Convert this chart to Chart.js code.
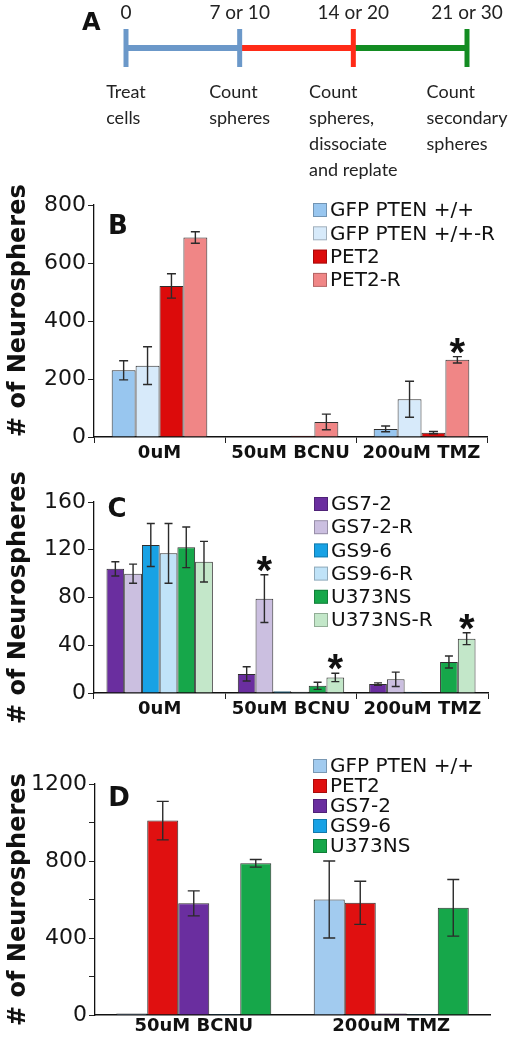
<!DOCTYPE html>
<html>
<head>
<meta charset="utf-8">
<script src="https://cdn.jsdelivr.net/npm/chart.js@4.4.1/dist/chart.umd.min.js"></script>
<style>
  html, body { margin: 0; padding: 0; background: #fff; }
  #wrap { position: relative; width: 531px; height: 1050px; overflow: hidden; }
  .panel { position: absolute; left: 0; width: 531px; }
</style>
</head>
<body>
<div id="wrap">
  <div class="panel" style="top:0;height:180px"><canvas id="chartA"></canvas></div>
  <div class="panel" style="top:180px;height:290px"><canvas id="chartB"></canvas></div>
  <div class="panel" style="top:470px;height:270px"><canvas id="chartC"></canvas></div>
  <div class="panel" style="top:740px;height:310px"><canvas id="chartD"></canvas></div>
</div>
<script>
// ---- Panel A: timeline ----
const timePos = [0, 1, 2, 3];
const timeTicks = ['0', '7 or 10', '14 or 20', '21 or 30'];
const timeSteps = [
    ['Treat', 'cells'],
    ['Count', 'spheres'],
    ['Count', 'spheres,', 'dissociate', 'and replate'],
    ['Count', 'secondary', 'spheres'],
];

// ---- Panels B / C / D: categories ----
const groupsBC = ['0uM', '50uM BCNU', '200uM TMZ'];
const groupsD = ['50uM BCNU', '200uM TMZ'];

// Panel B
const seriesB = ['GFP PTEN +/+', 'GFP PTEN +/+-R', 'PET2', 'PET2-R'];
const bGfp = [230, 2, 28];
const bGfpR = [246, 2, 130];
const bPet2 = [521, 4, 15];
const bPet2R = [688, 52, 266];
const bGfpErr = [33, 0, 10];
const bGfpRErr = [65, 0, 62];
const bPet2Err = [42, 0, 4];
const bPet2RErr = [20, 27, 11];
const bStars = [[3, 2]]; // [series, group]
const bTicks = [0, 200, 400, 600, 800];

// Panel C
const seriesC = ['GS7-2', 'GS7-2-R', 'GS9-6', 'GS9-6-R', 'U373NS', 'U373NS-R'];
const cGs72 = [104, 16, 7.5];
const cGs72R = [100, 79, 11.5];
const cGs96 = [124, 1.5, 1];
const cGs96R = [117, 1, 0.5];
const cU373 = [122, 6, 26];
const cU373R = [110, 13, 45.5];
const cGs72Err = [6, 6, 1];
const cGs72RErr = [8, 20, 6];
const cGs96Err = [18, 0, 0];
const cGs96RErr = [25, 0, 0];
const cU373Err = [17, 3, 5];
const cU373RErr = [17, 3.5, 5];
const cStars = [[1, 1], [5, 1], [5, 2]];
const cTicks = [0, 40, 80, 120, 160];

// Panel D
const seriesD = ['GFP PTEN +/+', 'PET2', 'GS7-2', 'GS9-6', 'U373NS'];
const dGfp = [8, 600];
const dPet2 = [1010, 583];
const dGs72 = [580, 8];
const dGs96 = [5, 5];
const dU373 = [788, 557];
const dGfpErr = [0, 200];
const dPet2Err = [100, 112];
const dGs72Err = [65, 0];
const dGs96Err = [0, 0];
const dU373Err = [20, 147];
const dStars = [];
const dTicks = [0, 400, 800, 1200];

Chart.defaults.font.family = '"DejaVu Sans", sans-serif';
Chart.defaults.color = '#151515';

// error bars + significance stars, placed from the bar elements and the y scale
const errorBars = {
    id: 'errorBars',
    afterDatasetsDraw(chart, args, o) {
        const { ctx, scales: { y } } = chart;
        ctx.save();
        ctx.strokeStyle = '#2b2b2b';
        ctx.lineWidth = 1.4;
        chart.data.datasets.forEach((ds, i) => {
            chart.getDatasetMeta(i).data.forEach((bar, j) => {
                const err = ds.errors[j];
                if (!err) return;
                const v = ds.data[j];
                const top = y.getPixelForValue(v + err);
                const bot = y.getPixelForValue(Math.max(v - err, 0));
                ctx.beginPath();
                ctx.moveTo(bar.x, top); ctx.lineTo(bar.x, bot);
                ctx.moveTo(bar.x - o.cap, top); ctx.lineTo(bar.x + o.cap, top);
                ctx.moveTo(bar.x - o.cap, bot); ctx.lineTo(bar.x + o.cap, bot);
                ctx.stroke();
            });
        });
        // asterisks above the marked bars
        ctx.fillStyle = '#111';
        ctx.font = 'bold 40px "Liberation Sans"';
        ctx.textAlign = 'center';
        ctx.textBaseline = 'alphabetic';
        const m = ctx.measureText('*');
        const half = (m.actualBoundingBoxAscent - m.actualBoundingBoxDescent) / 2;
        o.stars.forEach(([s, g]) => {
            const ds = chart.data.datasets[s];
            const bar = chart.getDatasetMeta(s).data[g];
            const cy = y.getPixelForValue(ds.data[g] + (ds.errors[g] || 0)) - 11;
            ctx.fillText('*', bar.x, cy + half);
        });
        ctx.restore();
    },
};

// legend inside the plot, plus the panel letter
const panelLegend = {
    id: 'panelLegend',
    afterDraw(chart, args, o) {
        const { ctx } = chart;
        ctx.save();
        ctx.font = '20px "DejaVu Sans"';
        ctx.textBaseline = 'middle';
        ctx.textAlign = 'left';
        chart.data.datasets.forEach((ds, i) => {
            const cy = o.top + i * o.gap;
            ctx.fillStyle = ds.backgroundColor;
            ctx.fillRect(o.left, cy - 7, 14, 14);
            ctx.strokeStyle = 'rgba(0,0,0,0.25)';
            ctx.lineWidth = 1;
            ctx.strokeRect(o.left + 0.5, cy - 6.5, 13, 13);
            ctx.fillStyle = '#111';
            ctx.fillText(ds.label, o.left + 17, cy + 1);
        });
        ctx.font = 'bold 26px "DejaVu Sans"';
        ctx.textAlign = 'center';
        ctx.textBaseline = 'alphabetic';
        ctx.fillText(o.letter, o.letterX, o.letterY);
        ctx.restore();
    },
};

function barPanel(id, p) {
    return new Chart(document.getElementById(id), {
        type: 'bar',
        data: {
            labels: p.labels,
            datasets: p.series.map((name, i) => ({
                label: name,
                data: p.values[i],
                errors: p.errors[i],
                backgroundColor: p.colors[i],
                borderColor: '#2e2e2e',
                borderWidth: 1,
                categoryPercentage: p.catPct,
                barPercentage: 1,
            })),
        },
        options: {
            responsive: true,
            maintainAspectRatio: false,
            animation: false,
            events: [],
            layout: { padding: p.padding },
            scales: {
                x: {
                    grid: {
                        display: p.xTicks, drawTicks: p.xTicks, offset: true,
                        drawOnChartArea: false, tickLength: 6, color: '#222',
                    },
                    border: { color: '#111', width: 1.5 },
                    ticks: { font: { size: 18, weight: 'bold' }, color: '#111', padding: p.xPad },
                    afterFit: (s) => { s.height = 30; },
                },
                y: {
                    min: 0,
                    max: p.max,
                    grid: { drawOnChartArea: false, tickLength: 6, color: '#222' },
                    border: { color: '#111', width: 1.3 },
                    ticks: {
                        stepSize: p.step,
                        padding: 2,
                        font: { size: 22 },
                        color: '#151515',
                        callback: (v) => (p.ticks.includes(v) ? String(v) : ''),
                    },
                    title: {
                        display: true,
                        text: '# of Neurospheres',
                        align: p.titleAlign,
                        font: { size: 24, weight: 'bold' },
                        color: '#111',
                        padding: { top: 4, bottom: 0 },
                    },
                    afterFit: (s) => { s.width = p.axisX; },
                },
            },
            plugins: {
                legend: { display: false },
                tooltip: { enabled: false },
                errorBars: { cap: p.cap, stars: p.stars },
                panelLegend: p.legend,
            },
        },
        plugins: [errorBars, panelLegend],
    });
}

// ---- draw panel A ----
const blue = '#6b98c9', red = '#ff2b17', green = '#138c22';
const stepLabels = {
    id: 'stepLabels',
    afterDraw(chart) {
        const { ctx, scales: { x }, chartArea } = chart;
        ctx.save();
        ctx.fillStyle = '#222';
        ctx.font = '18px Lato';
        ctx.textAlign = 'left';
        ctx.textBaseline = 'alphabetic';
        timeSteps.forEach((lines, i) => {
            const w = Math.max(...lines.map((l) => ctx.measureText(l).width));
            const left = x.getPixelForValue(timePos[i]) - w / 2;
            lines.forEach((l, j) => ctx.fillText(l, left, chartArea.bottom + 30 + j * 26));
        });
        ctx.font = 'bold 24px "DejaVu Sans"';
        ctx.fillStyle = '#111';
        ctx.fillText('A', chartArea.left - 44, 30);
        ctx.restore();
    },
};

new Chart(document.getElementById('chartA'), {
    type: 'line',
    data: {
        datasets: [{
            data: timePos.map((t) => ({ x: t, y: 0 })),
            borderWidth: 6,
            borderCapStyle: 'butt',
            segment: { borderColor: (c) => [blue, red, green][c.p0DataIndex] },
            pointStyle: 'line',
            rotation: 90,
            radius: 19,
            pointBorderWidth: 5,
            pointBorderColor: [blue, blue, red, green],
            clip: false,
        }],
    },
    options: {
        responsive: true,
        maintainAspectRatio: false,
        animation: false,
        events: [],
        layout: { padding: { left: 126, right: 64, top: 2, bottom: 112 } },
        scales: {
            x: {
                type: 'linear',
                position: 'top',
                min: 0,
                max: 3,
                grid: { display: false, drawTicks: false },
                border: { display: false },
                ticks: {
                    stepSize: 1,
                    padding: 4,
                    font: { family: 'Lato', size: 19 },
                    color: '#222',
                    callback: (v) => timeTicks[v],
                },
                afterFit: (s) => { s.height = 26; },
            },
            y: { display: false, min: -1, max: 1 },
        },
        plugins: { legend: { display: false }, tooltip: { enabled: false } },
    },
    plugins: [stepLabels],
});

// ---- draw panels B, C, D ----
barPanel('chartB', {
    labels: groupsBC,
    series: seriesB,
    values: [bGfp, bGfpR, bPet2, bPet2R],
    errors: [bGfpErr, bGfpRErr, bPet2Err, bPet2RErr],
    colors: ['#98c6ef', '#d7eafa', '#dc0b0b', '#f08686'],
    stars: bStars,
    ticks: bTicks,
    max: 800, step: 100, catPct: 0.73, cap: 4.5,
    axisX: 94, xTicks: true, xPad: 0, titleAlign: 'start',
    padding: { left: 0, right: 44, top: 25, bottom: 3 },
    legend: { left: 313, top: 30, gap: 23.3, letter: 'B', letterX: 118, letterY: 53.5 },
});

barPanel('chartC', {
    labels: groupsBC,
    series: seriesC,
    values: [cGs72, cGs72R, cGs96, cGs96R, cU373, cU373R],
    errors: [cGs72Err, cGs72RErr, cGs96Err, cGs96RErr, cU373Err, cU373RErr],
    colors: ['#6a2e9f', '#cbbfe0', '#18a2e5', '#c0e3f8', '#16a74a', '#c3e7c9'],
    stars: cStars,
    ticks: cTicks,
    max: 160, step: 20, catPct: 0.81, cap: 4,
    axisX: 94, xTicks: true, xPad: 0, titleAlign: 'center',
    padding: { left: 0, right: 43, top: 32, bottom: 17 },
    legend: { left: 314, top: 34, gap: 23.2, letter: 'C', letterX: 117, letterY: 46.5 },
});

barPanel('chartD', {
    labels: groupsD,
    series: seriesD,
    values: [dGfp, dPet2, dGs72, dGs96, dU373],
    errors: [dGfpErr, dPet2Err, dGs72Err, dGs96Err, dU373Err],
    colors: ['#a2cbef', '#e01010', '#6a2e9f', '#18a2e5', '#16a74a'],
    stars: dStars,
    ticks: dTicks,
    max: 1200, step: 200, catPct: 0.785, cap: 6,
    axisX: 95, xTicks: false, xPad: 1, titleAlign: 'center',
    padding: { left: 0, right: 41, top: 44, bottom: 5 },
    legend: { left: 313, top: 26, gap: 20, letter: 'D', letterX: 119, letterY: 65.5 },
});
</script>
</body>
</html>
